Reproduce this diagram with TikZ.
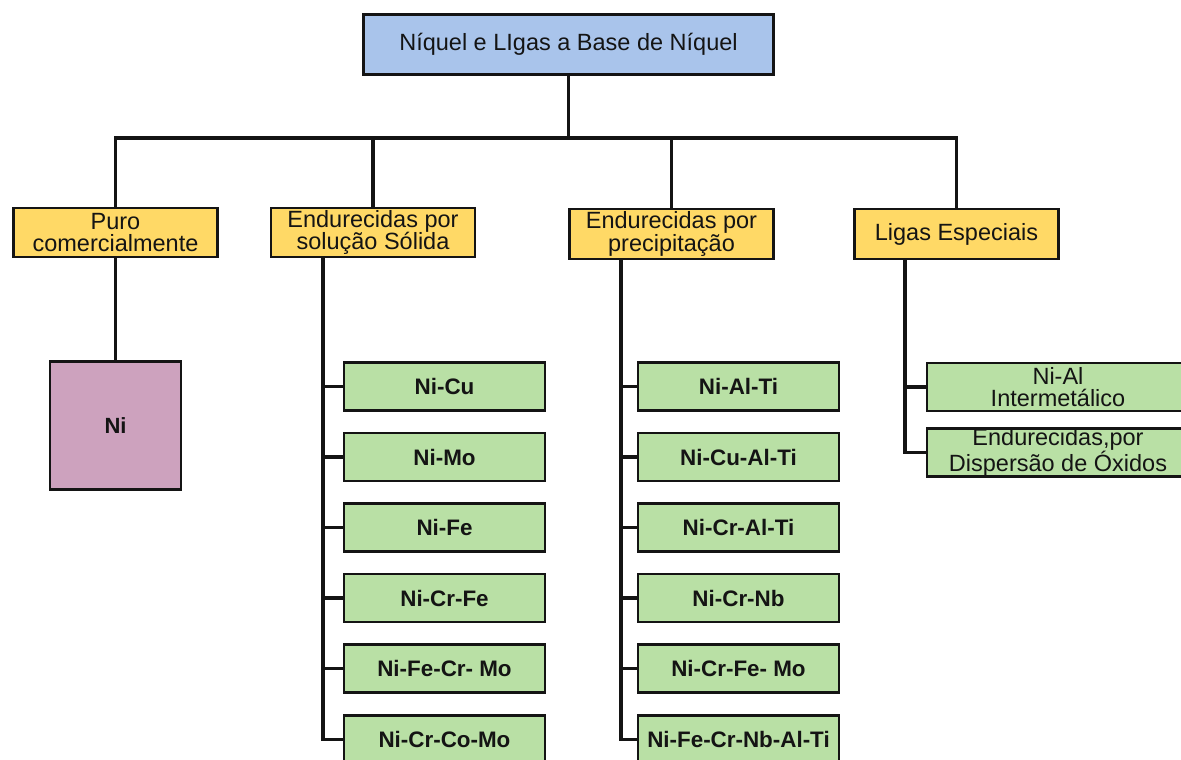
\documentclass[tikz,border=0pt]{standalone}
\usepackage{fontspec}
\setmainfont{Liberation Sans}
\definecolor{topblue}{HTML}{A9C4EB}
\definecolor{catyellow}{HTML}{FFD966}
\definecolor{leafgreen}{HTML}{B9E0A5}
\definecolor{nipink}{HTML}{CDA2BE}
\definecolor{ink}{HTML}{141414}
\tikzset{
  box/.style={draw=ink, line width=2.8pt, rectangle, align=center, inner sep=0pt, text=ink,
    font=\fontsize{23.5}{22.5}\selectfont},
  topbox/.style={box, fill=topblue, minimum width=410pt, minimum height=60pt},
  catbox/.style={box, fill=catyellow, minimum width=204pt, minimum height=49pt},
  pinkbox/.style={box, fill=nipink, minimum width=131pt, minimum height=128pt,
    font=\bfseries\fontsize{22}{21}\selectfont},
  leafbox/.style={box, fill=leafgreen, minimum width=201pt, minimum height=48pt,
    font=\bfseries\fontsize{22.4}{21}\selectfont},
  wideleaf/.style={box, fill=leafgreen, minimum width=262pt, minimum height=48pt},
  conn/.style={draw=ink, line width=3.2pt, line join=miter}
}
\begin{document}
\begin{tikzpicture}[x=1pt,y=-1pt]
\useasboundingbox (0,0) rectangle (1181,760);
\clip (0,0) rectangle (1181,760);
\fill[white] (0,0) rectangle (1181,760);

% nodes
\node[topbox] (top) at (568.5,44.5) {Níquel e LIgas a Base de Níquel};
\node[catbox] (A) at (115.5,232.5) {Puro\\comercialmente};
\node[catbox] (B) at (373,232.5) {Endurecidas por\\solução Sólida};
\node[catbox, minimum height=50pt] (C) at (671.5,234) {Endurecidas por\\precipitação};
\node[catbox, minimum height=50pt] (D) at (956.5,234) {Ligas Especiais};
\node[pinkbox] (Ni) at (115.5,425.5) {Ni};

\node[leafbox] (b1) at (444.5,386.5) {Ni-Cu};
\node[leafbox] (b2) at (444.5,457) {Ni-Mo};
\node[leafbox] (b3) at (444.5,527.5) {Ni-Fe};
\node[leafbox] (b4) at (444.5,598) {Ni-Cr-Fe};
\node[leafbox] (b5) at (444.5,668.5) {Ni-Fe-Cr- Mo};
\node[leafbox] (b6) at (444.5,739.5) {Ni-Cr-Co-Mo};

\node[leafbox] (c1) at (738.5,386.5) {Ni-Al-Ti};
\node[leafbox] (c2) at (738.5,457) {Ni-Cu-Al-Ti};
\node[leafbox] (c3) at (738.5,527.5) {Ni-Cr-Al-Ti};
\node[leafbox] (c4) at (738.5,598) {Ni-Cr-Nb};
\node[leafbox] (c5) at (738.5,668.5) {Ni-Cr-Fe- Mo};
\node[leafbox] (c6) at (738.5,739.5) {Ni-Fe-Cr-Nb-Al-Ti};

\node[wideleaf] (d1) at (1058,387) {Ni-Al\\Intermetálico};
\node[wideleaf] (d2) at (1058,452.5) {Endurecidas,por\\Dispersão de Óxidos};

% connector helpers
\coordinate (hub) at (568.5,138);
\coordinate (bx) at (323,0);
\coordinate (cx) at (621,0);
\coordinate (dx) at (905,0);

% connectors
\draw[conn] (top.south) -- (hub);
\draw[conn] (A.north) |- (hub);
\draw[conn] (B.north) |- (hub);
\draw[conn] (C.north) |- (hub);
\draw[conn] (D.north) |- (hub);
\draw[conn] (A.south) -- (Ni.north);
\foreach \k in {1,...,6} {
  \draw[conn] (B.south -| bx) |- (b\k.west);
  \draw[conn] (C.south -| cx) |- (c\k.west);
}
\foreach \k in {1,2} {
  \draw[conn] (D.south -| dx) |- (d\k.west);
}
\end{tikzpicture}
\end{document}
